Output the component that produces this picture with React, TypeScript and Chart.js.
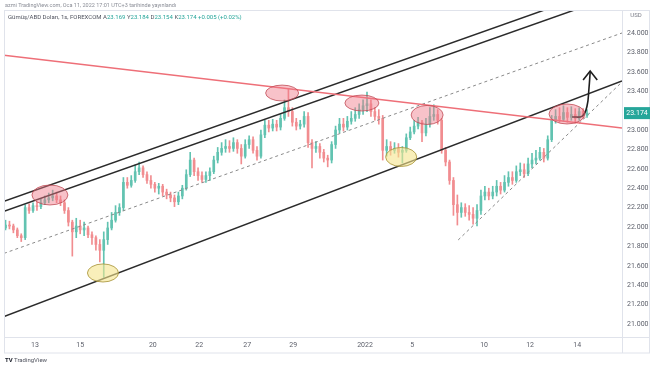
import React, { useEffect, useRef } from 'react';
import { Chart, registerables } from 'chart.js';

Chart.register(...registerables);

// 4-hour candles (index 0 = Dec 10 evening ... index 148 = Jan 11 17:00)
const candleOpen = [
  21.99, 22.02, 22.01, 21.97, 21.91, 21.89, 22.20, 22.17, 22.22, 22.21,
  22.25, 22.28, 22.30, 22.32, 22.28, 22.25, 22.17, 22.05, 21.95, 22.01,
  21.97, 21.99, 21.92, 21.89, 21.82, 21.76, 21.87, 21.99, 22.07, 22.15,
  22.20, 22.46, 22.43, 22.48, 22.57, 22.61, 22.54, 22.48, 22.44, 22.40,
  22.42, 22.36, 22.33, 22.30, 22.26, 22.32, 22.40, 22.54, 22.69, 22.57,
  22.53, 22.49, 22.53, 22.57, 22.69, 22.77, 22.81, 22.83, 22.81, 22.87,
  22.81, 22.73, 22.85, 22.90, 22.79, 22.73, 22.95, 23.05, 23.02, 23.06,
  23.03, 23.12, 23.23, 23.19, 23.08, 23.04, 23.06, 23.14, 22.87, 22.81,
  22.83, 22.77, 22.71, 22.69, 22.85, 23.00, 23.06, 23.03, 23.09, 23.12,
  23.16, 23.21, 23.25, 23.27, 23.19, 23.14, 23.12, 22.79, 22.83, 22.79,
  22.81, 22.77, 22.79, 22.92, 22.98, 23.04, 23.08, 22.97, 23.06, 23.14,
  23.16, 23.10, 22.79, 22.67, 22.48, 22.23, 22.15, 22.20, 22.15, 22.13,
  22.09, 22.17, 22.32, 22.36, 22.32, 22.36, 22.42, 22.38, 22.46, 22.51,
  22.48, 22.57, 22.59, 22.55, 22.65, 22.69, 22.71, 22.77, 22.71, 22.90,
  23.10, 23.14, 23.11, 23.18, 23.13, 23.16, 23.12, 23.19, 23.15,
];
const candleClose = [
  22.02, 22.01, 21.97, 21.91, 21.89, 22.20, 22.17, 22.22, 22.21, 22.25,
  22.28, 22.30, 22.32, 22.28, 22.25, 22.17, 22.05, 21.95, 22.01, 21.97,
  21.99, 21.92, 21.89, 21.82, 21.76, 21.87, 21.99, 22.07, 22.15, 22.20,
  22.46, 22.43, 22.48, 22.57, 22.61, 22.54, 22.48, 22.44, 22.40, 22.42,
  22.36, 22.33, 22.30, 22.26, 22.32, 22.40, 22.54, 22.69, 22.57, 22.53,
  22.49, 22.53, 22.57, 22.69, 22.77, 22.81, 22.83, 22.81, 22.87, 22.81,
  22.73, 22.85, 22.90, 22.79, 22.73, 22.95, 23.05, 23.02, 23.06, 23.03,
  23.12, 23.23, 23.19, 23.08, 23.04, 23.06, 23.14, 22.87, 22.81, 22.83,
  22.77, 22.71, 22.69, 22.85, 23.00, 23.06, 23.03, 23.09, 23.12, 23.16,
  23.21, 23.25, 23.27, 23.19, 23.14, 23.12, 22.79, 22.83, 22.79, 22.81,
  22.77, 22.79, 22.92, 22.98, 23.04, 23.08, 22.97, 23.06, 23.14, 23.16,
  23.10, 22.79, 22.67, 22.48, 22.23, 22.15, 22.20, 22.15, 22.13, 22.09,
  22.17, 22.32, 22.36, 22.32, 22.36, 22.42, 22.38, 22.46, 22.51, 22.48,
  22.57, 22.59, 22.55, 22.65, 22.69, 22.71, 22.77, 22.71, 22.90, 23.10,
  23.14, 23.11, 23.18, 23.13, 23.16, 23.12, 23.19, 23.15, 23.174,
];
const candleHigh = [
  22.07, 22.06, 22.03, 21.99, 21.93, 22.23, 22.24, 22.25, 22.26, 22.29,
  22.32, 22.35, 22.38, 22.36, 22.32, 22.28, 22.20, 22.07, 22.09, 22.07,
  22.05, 22.01, 21.95, 21.91, 21.87, 21.95, 22.05, 22.15, 22.22, 22.24,
  22.51, 22.51, 22.53, 22.64, 22.67, 22.63, 22.57, 22.53, 22.46, 22.45,
  22.44, 22.39, 22.36, 22.33, 22.36, 22.43, 22.59, 22.77, 22.71, 22.61,
  22.57, 22.57, 22.61, 22.73, 22.82, 22.87, 22.90, 22.89, 22.92, 22.90,
  22.85, 22.90, 22.94, 22.93, 22.83, 23.00, 23.10, 23.10, 23.11, 23.10,
  23.16, 23.31, 23.43, 23.23, 23.12, 23.10, 23.19, 23.18, 22.90, 22.88,
  22.86, 22.80, 22.74, 22.88, 23.04, 23.12, 23.12, 23.14, 23.19, 23.23,
  23.27, 23.31, 23.39, 23.31, 23.23, 23.21, 23.15, 22.90, 22.88, 22.87,
  22.86, 22.83, 22.96, 23.03, 23.10, 23.13, 23.10, 23.12, 23.23, 23.26,
  23.21, 23.12, 22.82, 22.69, 22.51, 22.33, 22.25, 22.24, 22.22, 22.20,
  22.23, 22.38, 22.42, 22.40, 22.42, 22.48, 22.46, 22.53, 22.57, 22.57,
  22.63, 22.66, 22.65, 22.71, 22.76, 22.79, 22.82, 22.81, 22.94, 23.15,
  23.21, 23.23, 23.25, 23.23, 23.24, 23.22, 23.23, 23.22, 23.21,
];
const candleLow = [
  21.97, 21.98, 21.94, 21.89, 21.85, 21.87, 22.14, 22.15, 22.17, 22.19,
  22.23, 22.25, 22.27, 22.25, 22.22, 22.14, 22.01, 21.70, 21.89, 21.93,
  21.91, 21.89, 21.82, 21.76, 21.64, 21.48, 21.82, 21.97, 22.05, 22.12,
  22.17, 22.40, 22.41, 22.46, 22.54, 22.51, 22.45, 22.40, 22.36, 22.34,
  22.32, 22.29, 22.26, 22.21, 22.23, 22.29, 22.38, 22.52, 22.53, 22.48,
  22.46, 22.46, 22.48, 22.55, 22.66, 22.74, 22.77, 22.77, 22.78, 22.76,
  22.65, 22.71, 22.81, 22.76, 22.69, 22.71, 22.92, 22.98, 22.99, 22.99,
  23.00, 23.10, 23.14, 23.04, 23.00, 23.01, 23.03, 22.82, 22.61, 22.77,
  22.71, 22.67, 22.62, 22.66, 22.81, 22.97, 22.99, 23.00, 23.06, 23.09,
  23.12, 23.16, 23.19, 23.14, 23.10, 23.06, 22.69, 22.73, 22.74, 22.76,
  22.72, 22.66, 22.77, 22.90, 22.96, 23.01, 22.88, 22.94, 23.03, 23.10,
  23.06, 22.76, 22.63, 22.44, 22.12, 22.02, 22.10, 22.11, 22.07, 22.03,
  22.01, 22.13, 22.28, 22.28, 22.29, 22.32, 22.34, 22.36, 22.42, 22.44,
  22.46, 22.53, 22.51, 22.53, 22.61, 22.65, 22.69, 22.67, 22.69, 22.88,
  23.07, 23.08, 23.09, 23.08, 23.10, 23.07, 23.10, 23.12, 23.13,
];

const xTickPos = [7.5, 19, 37.5, 49.3, 61.5, 73.2, 91.5, 103.5, 121.8, 133.5, 145.5];
const xTickLabels = ['13', '15', '20', '22', '27', '29', '2022', '5', '10', '12', '14'];
const yTicks = [21.0, 21.2, 21.4, 21.6, 21.8, 22.0, 22.2, 22.4, 22.6, 22.8, 23.0, 23.2, 23.4, 23.6, 23.8, 24.0];
const lastPrice = 23.174;

// drawn trend lines (x = candle index, y = price)
const redResistance = [{ x: -0.39, y: 23.77 }, { x: 156.9, y: 23.02 }];
const upperChannelA = [{ x: -0.39, y: 22.264 }, { x: 156.9, y: 24.52 }];
const upperChannelB = [{ x: -0.39, y: 22.161 }, { x: 156.9, y: 24.41 }];
const lowerChannel = [{ x: -0.39, y: 21.078 }, { x: 156.9, y: 23.505 }];
const midDashed = [{ x: -0.39, y: 21.728 }, { x: 156.9, y: 24.0 }];
const supportDashed = [{ x: 115.2, y: 21.866 }, { x: 156.9, y: 23.495 }];
const arrowCurve = [
  { x: 144.2, y: 23.134 }, { x: 146.8, y: 23.144 }, { x: 148.0, y: 23.247 },
  { x: 148.5, y: 23.433 }, { x: 148.8, y: 23.598 },
];
const arrowHead = [{ x: 147.0, y: 23.515 }, { x: 148.8, y: 23.608 }, { x: 150.6, y: 23.515 }];

// highlight ellipses: centre (index, price), radius (index units, price units)
const pinkCx = [11.3, 70.4, 90.7, 107.3, 142.9];
const pinkCy = [22.33, 23.381, 23.278, 23.155, 23.165];
const pinkRx = [4.58, 4.2, 4.33, 4.07, 4.58];
const pinkRy = [0.103, 0.082, 0.082, 0.098, 0.103];
const yellowCx = [24.8, 100.7];
const yellowCy = [21.526, 22.722];
const yellowRx = [3.95, 3.95];
const yellowRy = [0.093, 0.098];

const FONT = 'Roboto, "Liberation Sans", sans-serif';

export default function App() {
  const ref = useRef<HTMLCanvasElement>(null);

  useEffect(() => {
    const canvas = ref.current;
    if (!canvas) return;
    const up = '#62c3b1';
    const down = '#f18d90';
    const colors = candleClose.map((c, i) => (c >= candleOpen[i] ? up : down));
    const wickData = candleLow.map((l, i) => ({ x: i, y: [l, candleHigh[i]] }));
    const bodyData = candleOpen.map((o, i) => ({ x: i, y: [o, candleClose[i]] }));

    const lineDs = (data: any, color: string, width: number, dash: number[] = [], order = 2) => ({
      type: 'line' as const,
      data,
      borderColor: color,
      borderWidth: width,
      borderDash: dash,
      pointRadius: 0,
      fill: false,
      tension: 0,
      order,
    });

    const decor = {
      id: 'decor',
      beforeDraw(chart: any) {
        const c = chart.ctx;
        c.save();
        c.fillStyle = '#ffffff';
        c.fillRect(0, 0, chart.width, chart.height);
        c.restore();
      },
      afterDatasetsDraw(chart: any) {
        const c = chart.ctx;
        const xs = chart.scales.x;
        const ys = chart.scales.y;
        const area = chart.chartArea;
        c.save();
        c.beginPath();
        c.rect(area.left, area.top, area.right - area.left, area.bottom - area.top);
        c.clip();
        const drawEll = (cx: number, cy: number, rx: number, ry: number, fill: string, stroke: string) => {
          const px = xs.getPixelForValue(cx);
          const py = ys.getPixelForValue(cy);
          const prx = Math.abs(xs.getPixelForValue(cx + rx) - px);
          const pry = Math.abs(ys.getPixelForValue(cy + ry) - py);
          c.beginPath();
          c.ellipse(px, py, prx, pry, 0, 0, Math.PI * 2);
          c.fillStyle = fill;
          c.fill();
          c.lineWidth = 1;
          c.strokeStyle = stroke;
          c.stroke();
        };
        pinkCx.forEach((v, i) =>
          drawEll(v, pinkCy[i], pinkRx[i], pinkRy[i], 'rgba(240,120,135,0.45)', 'rgba(190,70,80,0.75)')
        );
        yellowCx.forEach((v, i) =>
          drawEll(v, yellowCy[i], yellowRx[i], yellowRy[i], 'rgba(245,228,140,0.6)', 'rgba(170,150,60,0.85)')
        );
        c.restore();
      },
      afterDraw(chart: any) {
        const c = chart.ctx;
        const area = chart.chartArea;
        const ys = chart.scales.y;
        c.save();
        c.strokeStyle = '#e0e3eb';
        c.lineWidth = 1;
        c.strokeRect(4.5, 10.5, 645, 342.5);
        c.beginPath();
        c.moveTo(area.right + 0.5, 10);
        c.lineTo(area.right + 0.5, 353);
        c.moveTo(4, area.bottom + 0.5);
        c.lineTo(650, area.bottom + 0.5);
        c.stroke();
        // last price label
        const py = ys.getPixelForValue(lastPrice);
        c.fillStyle = '#26a69a';
        c.fillRect(area.right + 2, py - 6, 26, 12);
        c.fillStyle = '#ffffff';
        c.font = `7px ${FONT}`;
        c.textAlign = 'center';
        c.textBaseline = 'middle';
        c.fillText(lastPrice.toFixed(3), area.right + 15, py + 0.5);
        // currency
        c.fillStyle = '#787b86';
        c.font = `6px ${FONT}`;
        c.fillText('USD', area.right + 14, 15);
        c.restore();
      },
    };

    const chart = new Chart(canvas, {
      type: 'bar',
      data: {
        datasets: [
          lineDs(redResistance, '#ee6f78', 1.5),
          lineDs(upperChannelA, '#2b2b2b', 1.5),
          lineDs(upperChannelB, '#2b2b2b', 1.5),
          lineDs(lowerChannel, '#2b2b2b', 1.5),
          lineDs(midDashed, '#8a8a8a', 1, [3, 3]),
          lineDs(supportDashed, '#8a8a8a', 1, [3, 3]),
          { ...lineDs(arrowCurve, '#1e1e1e', 1.6, [], 0), tension: 0.4 },
          lineDs(arrowHead, '#1e1e1e', 1.6, [], 0),
          {
            type: 'bar' as const,
            data: wickData as any,
            backgroundColor: colors,
            barThickness: 1,
            grouped: false,
            order: 10,
          },
          {
            type: 'bar' as const,
            data: bodyData as any,
            backgroundColor: colors,
            barThickness: 2,
            minBarLength: 1,
            grouped: false,
            order: 9,
          },
        ] as any,
      },
      options: {
        responsive: false,
        animation: false,
        devicePixelRatio: 1,
        layout: { padding: { left: 4, top: 10, right: 4, bottom: 13 } },
        plugins: { legend: { display: false }, tooltip: { enabled: false } },
        scales: {
          x: {
            type: 'linear',
            min: -0.39,
            max: 156.9,
            offset: false,
            grid: { display: false, drawTicks: false },
            border: { display: false },
            afterBuildTicks: (s: any) => {
              s.ticks = xTickPos.map((v) => ({ value: v }));
            },
            afterFit: (s: any) => {
              s.height = 16;
            },
            ticks: {
              autoSkip: false,
              maxRotation: 0,
              padding: 4,
              color: '#5d606b',
              font: { size: 7, family: FONT },
              callback: (_v: any, i: number) => xTickLabels[i] ?? '',
            },
          },
          y: {
            type: 'linear',
            position: 'right',
            min: 20.866,
            max: 24.237,
            grid: { display: false, drawTicks: false },
            border: { display: false },
            afterBuildTicks: (s: any) => {
              s.ticks = yTicks.map((v) => ({ value: v }));
            },
            afterFit: (s: any) => {
              s.width = 28;
            },
            ticks: {
              padding: 5,
              color: '#5d606b',
              font: { size: 7, family: FONT },
              callback: (v: any) => (Math.abs(Number(v) - 23.2) < 1e-6 ? '' : Number(v).toFixed(3)),
            },
          },
        },
      } as any,
      plugins: [decor],
    });
    return () => chart.destroy();
  }, []);

  return (
    <div style={{ position: 'fixed', left: 0, top: 0, width: 654, height: 366, background: '#fff', fontFamily: FONT }}>
      <canvas ref={ref} width={654} height={366} style={{ position: 'absolute', left: 0, top: 0, width: 654, height: 366 }} />
      <div style={{ position: 'absolute', left: 5, top: 1, fontSize: 5.5, color: '#8a8d96', whiteSpace: 'nowrap', lineHeight: '8px' }}>
        azmi TradingView.com, Oca 11, 2022 17:01 UTC+3 tarihinde yayınlandı
      </div>
      <div style={{ position: 'absolute', left: 8, top: 13, fontSize: 6, color: '#50535e', whiteSpace: 'nowrap', lineHeight: '8px' }}>
        Gümüş/ABD Doları, 1s, FOREXCOM{'  '}
        <span>A</span><span style={{ color: '#26a69a' }}>23.169</span>{' '}
        <span>Y</span><span style={{ color: '#26a69a' }}>23.184</span>{' '}
        <span>D</span><span style={{ color: '#26a69a' }}>23.154</span>{' '}
        <span>K</span><span style={{ color: '#26a69a' }}>23.174</span>{' '}
        <span style={{ color: '#26a69a' }}>+0.005 (+0.02%)</span>
      </div>
      <div style={{ position: 'absolute', left: 5, top: 356, fontSize: 6, color: '#50535e', whiteSpace: 'nowrap', lineHeight: '8px' }}>
        <b style={{ color: '#131722' }}>TV</b> TradingView
      </div>
    </div>
  );
}
